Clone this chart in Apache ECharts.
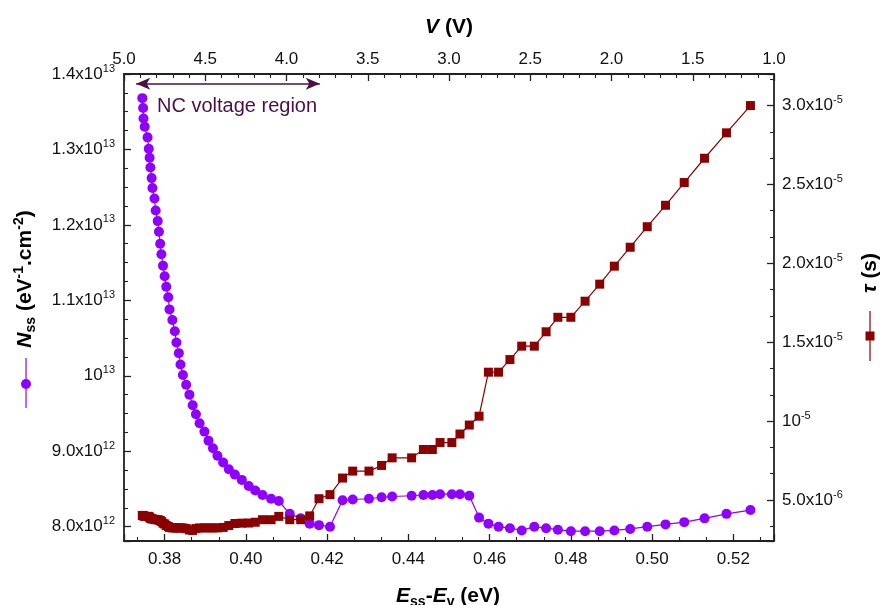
<!DOCTYPE html>
<html>
<head>
<meta charset="utf-8">
<title>Nss and tau vs Ess-Ev</title>
<script src="https://cdn.jsdelivr.net/npm/echarts@6/dist/echarts.min.js"></script>
<style>
  html, body { margin: 0; padding: 0; background: #fff; }
  #main { width: 883px; height: 605px; }
</style>
</head>
<body>
<div id="main"></div>
<script>
// E_ss - E_v (eV), shared by both curves
var energy = [
  0.3745, 0.3747, 0.3748, 0.3751, 0.3758, 0.3761, 0.3763, 0.3765, 0.3768, 0.3770,
  0.3775, 0.3778, 0.3783, 0.3786, 0.3789, 0.3792, 0.3796, 0.3800, 0.3804, 0.3809,
  0.3812, 0.3819, 0.3825, 0.3829, 0.3835, 0.3839, 0.3845, 0.3853, 0.3861, 0.3869,
  0.3877, 0.3886, 0.3898, 0.3908, 0.3919, 0.3930, 0.3944, 0.3958, 0.3973, 0.3990,
  0.4007, 0.4023, 0.4041, 0.4062, 0.4081, 0.4108, 0.4135, 0.4157, 0.4180, 0.4207,
  0.4238, 0.4263, 0.4303, 0.4334, 0.4360, 0.4408, 0.4437, 0.4459, 0.4478, 0.4507,
  0.4527, 0.4550, 0.4574, 0.4597, 0.4622, 0.4650, 0.4679, 0.4710, 0.4739, 0.4768,
  0.4800, 0.4835, 0.4871, 0.4907, 0.4946, 0.4988, 0.5033, 0.5079, 0.5129, 0.5183,
  0.5242
];
// N_ss, in units of 1e12 eV^-1 cm^-2
var nss = [
  13.68, 13.55, 13.41, 13.30, 13.16, 13.01, 12.89, 12.76, 12.62, 12.49,
  12.35, 12.19, 12.05, 11.91, 11.75, 11.61, 11.46, 11.32, 11.18, 11.04,
  10.88, 10.74, 10.59, 10.44, 10.30, 10.15, 10.01, 9.88, 9.75, 9.61,
  9.49, 9.37, 9.26, 9.14, 9.04, 8.94, 8.85, 8.76, 8.69, 8.62,
  8.54, 8.48, 8.42, 8.37, 8.34, 8.17, 8.11, 8.04, 8.02, 8.00,
  8.35, 8.36, 8.37, 8.39, 8.40, 8.41, 8.42, 8.42, 8.43, 8.43,
  8.43, 8.41, 8.12, 8.04, 8.00, 7.98, 7.95, 8.00, 7.98, 7.96,
  7.94, 7.94, 7.94, 7.95, 7.97, 8.00, 8.03, 8.06, 8.11, 8.17,
  8.22
];
// tau, in microseconds (1e-6 s)
var tau = [
  4.02, 4.02, 3.99, 3.96, 3.96, 3.96, 3.90, 3.84, 3.81, 3.80,
  3.77, 3.75, 3.75, 3.73, 3.70, 3.64, 3.53, 3.48, 3.38, 3.32,
  3.26, 3.23, 3.23, 3.23, 3.23, 3.23, 3.23, 3.19, 3.10, 3.07,
  3.19, 3.23, 3.23, 3.23, 3.23, 3.23, 3.26, 3.38, 3.51, 3.53,
  3.54, 3.59, 3.75, 3.75, 3.96, 3.75, 3.75, 3.99, 5.08, 5.34,
  6.39, 6.83, 6.83, 7.19, 7.67, 7.67, 8.20, 8.20, 8.64, 8.64,
  9.18, 9.75, 10.31, 13.10, 13.10, 13.90, 14.75, 14.75, 15.66, 16.58,
  16.58, 17.60, 18.68, 19.82, 21.02, 22.32, 23.68, 25.12, 26.66, 28.27,
  30.00
];
// NC voltage region arrow ends: [E, Nss]
var ncArrow = [[0.3730, 13.87], [0.4182, 13.87]];

var FONT = '"Liberation Sans", Arial, sans-serif';
var AX = '#222';
var PURPLE = '#8F00FF';
var DARKRED = '#8B0000';

function pairs(xs, ys) {
  var out = [];
  for (var i = 0; i < xs.length; i++) out.push([xs[i], ys[i]]);
  return out;
}
function sup(main, exp) { return '{m|' + main + '}{s|' + exp + '}'; }
function onStep(v, step) { return Math.abs(v / step - Math.round(v / step)) < 1e-6; }

var labelRich = {
  m: { fontSize: 17, lineHeight: 22, color: '#111', fontFamily: FONT },
  s: { fontSize: 11, lineHeight: 11, verticalAlign: 'top', color: '#111', fontFamily: FONT }
};

function axisCommon(minorSplit) {
  return {
    axisLine: { show: true, onZero: false, lineStyle: { color: AX, width: 1.8 } },
    axisTick: { show: true, inside: true, length: 7, lineStyle: { color: AX, width: 1.3 } },
    minorTick: { show: true, splitNumber: minorSplit, length: 4, lineStyle: { color: AX, width: 1.1 } },
    splitLine: { show: false }
  };
}

var chart = echarts.init(document.getElementById('main'), null, { renderer: 'canvas' });

var xBottom = Object.assign(axisCommon(3), {
  type: 'value', position: 'bottom', min: 0.37, max: 0.53, splitNumber: 8,
  axisLabel: {
    margin: 10, fontSize: 17, color: '#111', fontFamily: FONT,
    formatter: function (v) { return onStep(v, 0.02) ? v.toFixed(2) : ''; }
  }
});
var xTop = Object.assign(axisCommon(5), {
  type: 'value', position: 'top', min: 1, max: 5, interval: 0.5, inverse: true,
  axisLabel: {
    margin: 6, fontSize: 17, color: '#111', fontFamily: FONT,
    formatter: function (v) { return v.toFixed(1); }
  }
});
var yLeft = Object.assign(axisCommon(4), {
  type: 'value', position: 'left', min: 7.81, max: 14, splitNumber: 6,
  axisLabel: {
    margin: 9, rich: labelRich,
    formatter: function (v) {
      if (!onStep(v, 1)) return '';
      if (Math.abs(v - 10) < 1e-9) return sup('10', '13');
      if (v > 10) return sup((v / 10).toFixed(1) + 'x10', '13');
      return sup(v.toFixed(1) + 'x10', '12');
    }
  }
});
var yRight = Object.assign(axisCommon(3), {
  type: 'value', position: 'right', min: 2.4, max: 32, splitNumber: 6,
  axisLabel: {
    margin: 8, rich: labelRich,
    formatter: function (v) {
      if (!onStep(v, 5)) return '';
      if (Math.abs(v - 10) < 1e-9) return sup('10', '-5');
      if (v > 10) return sup((v / 10).toFixed(1) + 'x10', '-5');
      return sup(v.toFixed(1) + 'x10', '-6');
    }
  }
});

var boldI = { fontSize: 21, fontWeight: 'bold', fontStyle: 'italic', fill: '#000', fontFamily: FONT, lineHeight: 26 };
var boldR = { fontSize: 21, fontWeight: 'bold', fill: '#000', fontFamily: FONT, lineHeight: 26 };
var boldSub = { fontSize: 14, fontWeight: 'bold', fill: '#000', fontFamily: FONT, lineHeight: 14, verticalAlign: 'bottom' };
var boldSup = { fontSize: 14, fontWeight: 'bold', fill: '#000', fontFamily: FONT, lineHeight: 14, verticalAlign: 'top' };
var titleRich = { i: boldI, r: boldR, sub: boldSub, sup: boldSup };

var option = {
  animation: false,
  backgroundColor: '#fff',
  textStyle: { fontFamily: FONT },
  grid: { left: 124, right: 109, top: 74, bottom: 64, containLabel: false },
  xAxis: [xBottom, xTop],
  yAxis: [yLeft, yRight],
  series: [
    {
      name: 'Nss', type: 'line', xAxisIndex: 0, yAxisIndex: 0,
      data: pairs(energy, nss),
      symbol: 'circle', symbolSize: 10, showAllSymbol: true,
      itemStyle: { color: PURPLE },
      lineStyle: { color: PURPLE, width: 1.2 },
      z: 2,
      markLine: {
        silent: true, symbol: ['arrow', 'arrow'], symbolSize: [9, 14],
        label: { show: false },
        lineStyle: { color: '#4B0F45', width: 1.6, type: 'solid' },
        data: [[{ coord: ncArrow[0] }, { coord: ncArrow[1] }]]
      }
    },
    {
      name: 'tau', type: 'line', xAxisIndex: 0, yAxisIndex: 1,
      data: pairs(energy, tau),
      symbol: 'rect', symbolSize: 9, showAllSymbol: true,
      itemStyle: { color: DARKRED },
      lineStyle: { color: DARKRED, width: 1.2 },
      z: 3
    }
  ],
  graphic: { elements: [
    { type: 'text', x: 449, y: 27, style: { text: '{i|V}{r| (V)}', rich: titleRich, align: 'center', verticalAlign: 'middle' } },
    { type: 'text', x: 448, y: 596, style: { text: '{i|E}{sub|ss}{r|-}{i|E}{sub|v}{r| (eV)}', rich: titleRich, align: 'center', verticalAlign: 'middle' } },
    { type: 'text', x: 25, y: 279, rotation: Math.PI / 2,
      style: { text: '{i|N}{sub|ss}{r| (eV}{sup|-1}{r|.cm}{sup|-2}{r|)}', rich: titleRich, align: 'center', verticalAlign: 'middle' } },
    { type: 'text', x: 870, y: 273, rotation: Math.PI / 2,
      style: { text: '{i|\u03C4}{r| (s)}', rich: titleRich, align: 'center', verticalAlign: 'middle' } },
    { type: 'line', shape: { x1: 26, y1: 358, x2: 26, y2: 408 }, style: { stroke: PURPLE, lineWidth: 1.2 } },
    { type: 'circle', shape: { cx: 26, cy: 384, r: 5 }, style: { fill: PURPLE } },
    { type: 'line', shape: { x1: 870, y1: 311, x2: 870, y2: 361 }, style: { stroke: DARKRED, lineWidth: 1.2 } },
    { type: 'rect', shape: { x: 865.5, y: 331.5, width: 9, height: 9 }, style: { fill: DARKRED } },
    { type: 'text', x: 157, y: 106, style: { text: 'NC voltage region', fontSize: 20, fontFamily: FONT, fill: '#4B0F45', verticalAlign: 'middle' } }
  ] }
};

chart.setOption(option);
</script>
</body>
</html>
